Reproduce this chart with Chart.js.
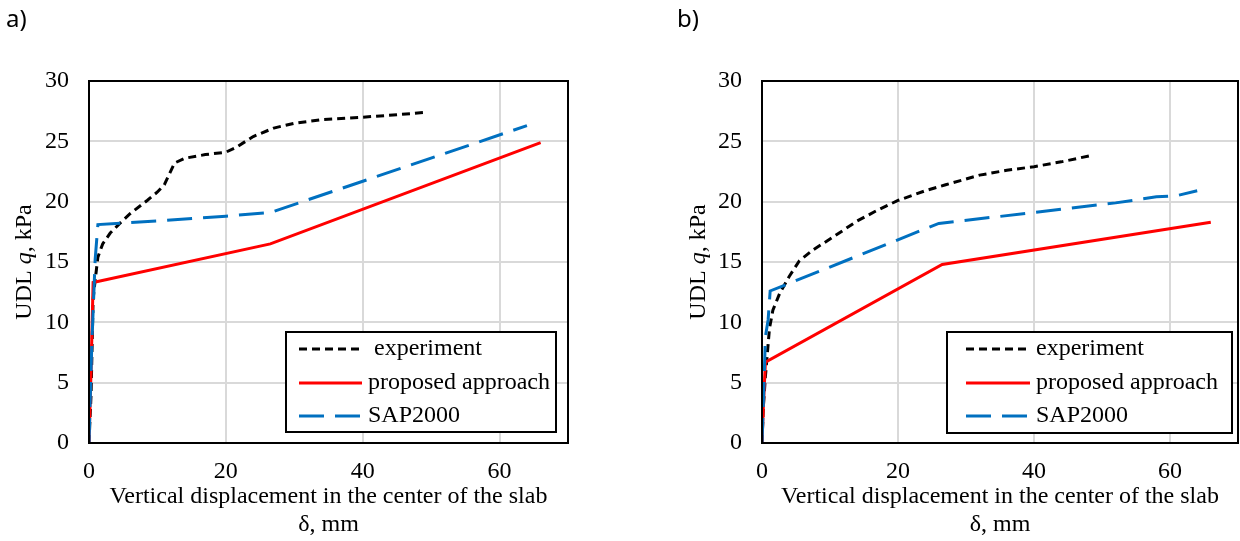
<!DOCTYPE html>
<html>
<head>
<meta charset="utf-8">
<script src="https://cdn.jsdelivr.net/npm/chart.js@4.4.0/dist/chart.umd.min.js"></script>
<style>
  html, body { margin: 0; padding: 0; background: #fff; }
  #wrap { position: relative; width: 1240px; height: 541px; overflow: hidden; }
  .panel { position: absolute; top: 0; width: 620px; height: 541px; }
  .tag { position: absolute; top: 1px; font: 24px "Noto Sans", sans-serif; color: #000; }
</style>
</head>
<body>
<div id="wrap">
  <div class="panel" style="left:0"><canvas id="chartA"></canvas></div>
  <div class="panel" style="left:620px"><canvas id="chartB"></canvas></div>
  <div class="tag" style="left:6px">a)</div>
  <div class="tag" style="left:677px">b)</div>
</div>
<script>
// series names and ticks
const seriesNames = ['experiment', 'proposed approach', 'SAP2000'];
const xTickValues = [0, 20, 40, 60];
const yTickValues = [0, 5, 10, 15, 20, 25, 30];

// panel a) - displacement (mm) / load (kPa)
const expA_d = [0, 0.3, 0.6, 0.9, 1.3, 2, 3.1, 4.5, 6, 8.5, 10, 11, 12.5, 14, 17, 20, 21.5, 24, 27, 30, 34, 40, 45, 49];
const expA_q = [0, 4, 11.9, 13.5, 15.4, 16.5, 17.4, 18.2, 19.0, 20.1, 20.8, 21.4, 23.2, 23.6, 23.9, 24.1, 24.5, 25.4, 26.1, 26.5, 26.8, 27.0, 27.2, 27.4];
const propA_d = [0, 0.3, 0.6, 26.5, 66];
const propA_q = [0, 6, 13.3, 16.5, 24.9];
const sapA_d = [0, 0.4, 0.9, 1.3, 10, 20, 26.5, 64];
const sapA_q = [0, 8, 15.2, 18.1, 18.4, 18.8, 19.1, 26.3];

// panel b)
const expB_d = [0, 0.2, 0.5, 0.8, 1.1, 1.6, 2.6, 4, 5.5, 7.5, 10, 14, 17, 20, 24, 27, 32, 36, 40, 44, 48.2];
const expB_q = [0, 3, 5.5, 7.5, 9.5, 11, 12.4, 13.8, 15.1, 16, 16.9, 18.4, 19.3, 20.1, 20.9, 21.4, 22.2, 22.6, 22.9, 23.3, 23.8];
const propB_d = [0, 0.2, 0.5, 26.5, 66];
const propB_q = [0, 3, 6.7, 14.8, 18.3];
const sapB_d = [0, 0.3, 0.5, 0.9, 1.2, 26, 40, 52, 58, 61, 64];
const sapB_q = [0, 5, 8.8, 10.2, 12.6, 18.2, 19.1, 19.9, 20.4, 20.5, 20.9];

const SERIF = '"Liberation Serif", "Times New Roman", serif';

function pts(xs, ys) {
    return xs.map((x, i) => ({ x: x, y: ys[i] }));
}

const lineStyles = [
    { color: '#000000', dash: [8, 5] },
    { color: '#ff0000', dash: [] },
    { color: '#0070c0', dash: [25, 11] }
];

function makeDatasets(sets) {
    return sets.map((s, i) => ({
        label: seriesNames[i],
        data: pts(s[0], s[1]),
        borderColor: lineStyles[i].color,
        borderDash: lineStyles[i].dash,
        borderWidth: 3,
        borderCapStyle: 'butt',
        pointRadius: 0,
        showLine: true,
        fill: false,
        tension: 0,
        order: 3 - i
    }));
}

// draws frame, axis titles and legend box
const decorPlugin = {
    id: 'decor',
    afterDraw(chart, args, opts) {
        const ctx = chart.ctx;
        const a = chart.chartArea;
        ctx.save();

        // plot frame
        ctx.strokeStyle = '#000';
        ctx.lineWidth = 2;
        ctx.strokeRect(a.left, a.top, a.right - a.left, a.bottom - a.top);

        // y title, with italic q
        const parts = [
            { t: 'UDL ', f: '24px ' + SERIF },
            { t: 'q', f: 'italic 24px ' + SERIF },
            { t: ', kPa', f: '24px ' + SERIF }
        ];
        let total = 0;
        parts.forEach(p => { ctx.font = p.f; p.w = ctx.measureText(p.t).width; total += p.w; });
        ctx.translate(opts.yTitleX, (a.top + a.bottom) / 2);
        ctx.rotate(-Math.PI / 2);
        ctx.fillStyle = '#000';
        ctx.textBaseline = 'middle';
        ctx.textAlign = 'left';
        let px = -total / 2;
        parts.forEach(p => { ctx.font = p.f; ctx.fillText(p.t, px, 0); px += p.w; });
        ctx.restore();
        ctx.save();

        // x title (two lines)
        const cx = (a.left + a.right) / 2;
        ctx.font = '24px ' + SERIF;
        ctx.fillStyle = '#000';
        ctx.textAlign = 'center';
        ctx.textBaseline = 'middle';
        ctx.fillText('Vertical displacement in the center of the slab', cx, opts.xTitleY[0]);
        ctx.fillText('\u03b4, mm', cx, opts.xTitleY[1]);

        // legend
        const L = opts.legend;
        ctx.fillStyle = '#fff';
        ctx.fillRect(L.x, L.y, L.w, L.h);
        ctx.strokeStyle = '#000';
        ctx.lineWidth = 2;
        ctx.strokeRect(L.x, L.y, L.w, L.h);
        ctx.textAlign = 'left';
        chart.data.datasets.forEach((ds, i) => {
            const y = L.rows[i];
            ctx.beginPath();
            ctx.setLineDash(ds.borderDash);
            ctx.strokeStyle = ds.borderColor;
            ctx.lineWidth = 3;
            ctx.moveTo(L.lineX[0], y);
            ctx.lineTo(L.lineX[1], y);
            ctx.stroke();
            ctx.setLineDash([]);
            ctx.fillStyle = '#000';
            ctx.fillText((i === 0 ? L.firstPrefix : '') + ds.label, L.textX, y);
        });
        ctx.restore();
    }
};

function makeChart(id, sets, geom) {
    const ctx = document.getElementById(id).getContext('2d');
    return new Chart(ctx, {
        type: 'scatter',
        data: { datasets: makeDatasets(sets) },
        options: {
            responsive: true,
            maintainAspectRatio: false,
            animation: false,
            layout: { padding: { left: 0, top: 81, right: geom.padRight, bottom: 0 } },
            plugins: {
                legend: { display: false },
                tooltip: { enabled: false },
                decor: {
                    yTitleX: geom.yTitleX,
                    xTitleY: [497, 525],
                    legend: geom.legend
                }
            },
            scales: {
                x: {
                    type: 'linear',
                    min: 0,
                    max: 70,
                    afterFit: s => { s.height = 98; },
                    afterBuildTicks: s => { s.ticks = xTickValues.map(v => ({ value: v })); },
                    ticks: { padding: 14, color: '#000', font: { family: SERIF, size: 24 } },
                    grid: { color: '#d9d9d9', lineWidth: 2, drawTicks: false },
                    border: { display: false }
                },
                y: {
                    type: 'linear',
                    min: 0,
                    max: 30,
                    afterFit: s => { s.width = geom.plotLeft; },
                    afterBuildTicks: s => { s.ticks = yTickValues.map(v => ({ value: v })); },
                    ticks: { padding: 20, color: '#000', font: { family: SERIF, size: 24 } },
                    grid: { color: '#d9d9d9', lineWidth: 2, drawTicks: false },
                    border: { display: false }
                }
            }
        },
        plugins: [decorPlugin]
    });
}

makeChart('chartA', [[expA_d, expA_q], [propA_d, propA_q], [sapA_d, sapA_q]], {
    plotLeft: 89,
    padRight: 52,
    yTitleX: 25,
    legend: { x: 286, y: 332, w: 270, h: 100, rows: [349, 383, 416], lineX: [299, 362], textX: 368, firstPrefix: ' ' }
});

makeChart('chartB', [[expB_d, expB_q], [propB_d, propB_q], [sapB_d, sapB_q]], {
    plotLeft: 142,
    padRight: 2,
    yTitleX: 79,
    legend: { x: 327, y: 332, w: 285, h: 101, rows: [349, 383, 416], lineX: [346, 410], textX: 416, firstPrefix: '' }
});
</script>
</body>
</html>
